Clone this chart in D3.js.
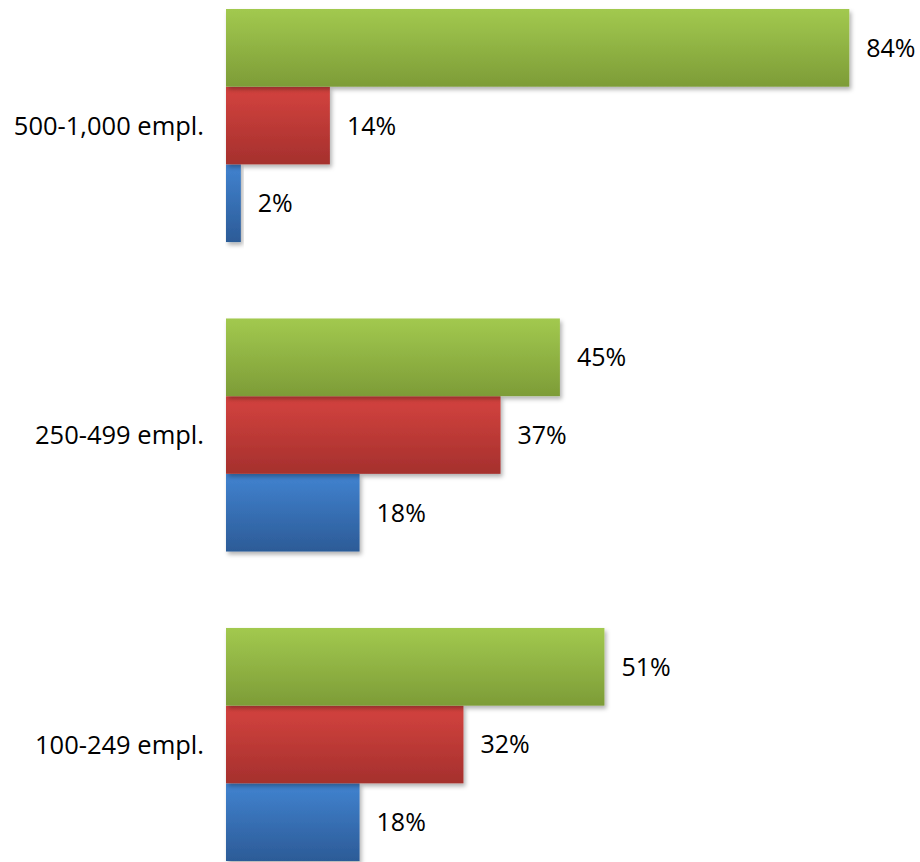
<!DOCTYPE html>
<html>
<head>
<meta charset="utf-8">
<script src="https://cdn.jsdelivr.net/npm/d3@7"></script>
<style>
  html, body { margin: 0; padding: 0; background: #fff; }
  svg { display: block; }
  text { font-family: "Open Sans", "Noto Sans", sans-serif; fill: #000; }
</style>
</head>
<body>
<svg id="chart" width="920" height="862"></svg>
<script>
// Company size bands, top to bottom
const categories = ["500-1,000 empl.", "250-499 empl.", "100-249 empl."];
// Share per size band (percent), one array per series
const greenValues = [84, 45, 51];
const redValues   = [14, 37, 32];
const blueValues  = [2, 18, 18];
const seriesNames = ["green", "red", "blue"];

const seriesValues = { green: greenValues, red: redValues, blue: blueValues };
const palette = {
  green: { top: "#a2c94f", bottom: "#7d9c37" },
  red:   { top: "#d4433f", bottom: "#a5302d" },
  blue:  { top: "#4183d0", bottom: "#2c5b97" }
};

const svg = d3.select("#chart");
const defs = svg.append("defs");

seriesNames.forEach(s => {
  const g = defs.append("linearGradient")
    .attr("id", "grad-" + s)
    .attr("x1", 0).attr("y1", 0).attr("x2", 0).attr("y2", 1);
  g.append("stop").attr("offset", "0%").attr("stop-color", palette[s].top);
  g.append("stop").attr("offset", "100%").attr("stop-color", palette[s].bottom);
});

const shadow = defs.append("filter").attr("id", "shadow")
  .attr("x", "-5%").attr("y", "-5%").attr("width", "120%").attr("height", "130%");
shadow.append("feDropShadow")
  .attr("dx", 2).attr("dy", 3).attr("stdDeviation", 2)
  .attr("flood-color", "#000").attr("flood-opacity", 0.3);

const x = d3.scaleLinear().domain([0, 100]).range([226, 968]);

const y0 = d3.scaleBand()
  .domain(categories)
  .range([9, 861])
  .paddingInner(0.247)
  .paddingOuter(0);

const y1 = d3.scaleBand()
  .domain(seriesNames)
  .range([0, y0.bandwidth()])
  .padding(0);

const rows = categories.map((c, i) => ({
  category: c,
  bars: seriesNames.map(s => ({ series: s, value: seriesValues[s][i] }))
}));

const group = svg.selectAll("g.group")
  .data(rows)
  .join("g")
  .attr("class", "group")
  .attr("transform", d => `translate(0,${y0(d.category)})`);

// Lower bars first so each upper bar's shadow falls on the one beneath it
group.selectAll("rect.bar")
  .data(d => d.bars.slice().reverse())
  .join("rect")
  .attr("class", "bar")
  .attr("x", x(0))
  .attr("y", d => y1(d.series))
  .attr("width", d => x(d.value) - x(0))
  .attr("height", y1.bandwidth())
  .attr("fill", d => `url(#grad-${d.series})`)
  .attr("filter", "url(#shadow)");

group.selectAll("text.value")
  .data(d => d.bars)
  .join("text")
  .attr("class", "value")
  .attr("x", d => x(d.value) + 17)
  .attr("y", d => y1(d.series) + y1.bandwidth() / 2)
  .attr("dy", "0.36em")
  .attr("font-size", 25)
  .text(d => d.value + "%");

group.append("text")
  .attr("class", "category")
  .attr("x", 204)
  .attr("y", y0.bandwidth() / 2)
  .attr("dy", "0.36em")
  .attr("text-anchor", "end")
  .attr("font-size", 25.5)
  .text(d => d.category);
</script>
</body>
</html>
